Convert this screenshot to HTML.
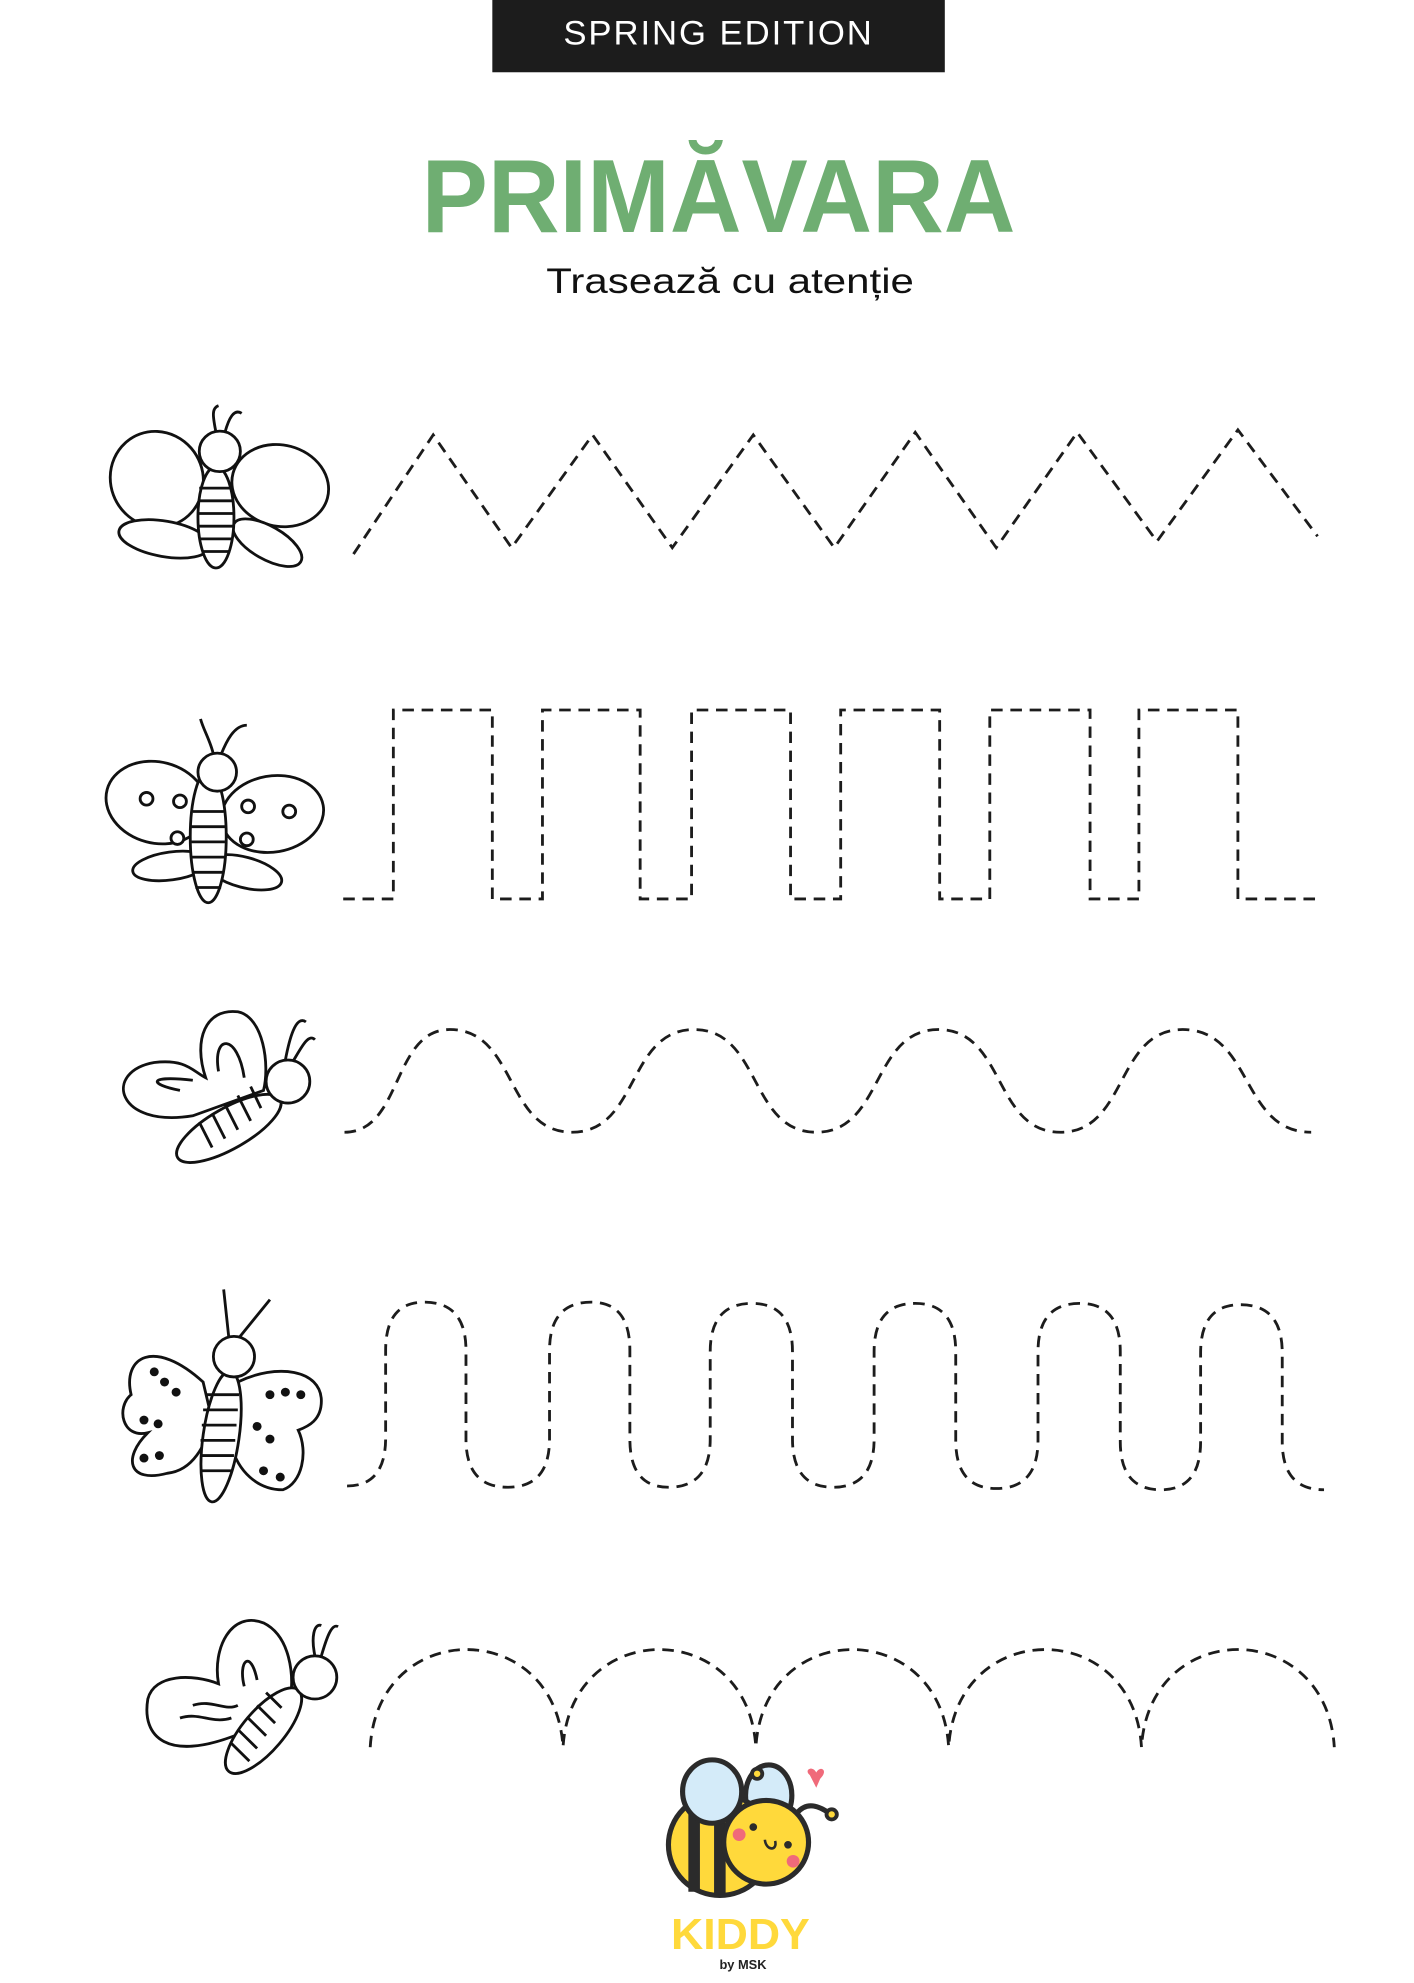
<!DOCTYPE html>
<html><head><meta charset="utf-8"><style>
html,body{margin:0;padding:0;background:#fff;}
svg{display:block;}
</style></head><body>
<svg width="1414" height="1983" viewBox="0 0 1100 1564" preserveAspectRatio="none" xmlns="http://www.w3.org/2000/svg">
<rect x="383" y="0" width="352" height="57" fill="#1c1c1c"/>
<text x="559" y="35" text-anchor="middle" font-family="Liberation Sans, sans-serif" font-size="27" fill="#fff" letter-spacing="1.5">SPRING EDITION</text>
<text x="559" y="183" text-anchor="middle" font-family="Liberation Sans, sans-serif" font-weight="bold" font-size="82" fill="#6fae72" textLength="462" lengthAdjust="spacingAndGlyphs">PRIMĂVARA</text>
<text x="568" y="231" text-anchor="middle" font-family="Liberation Sans, sans-serif" font-size="28" fill="#111" textLength="286" lengthAdjust="spacingAndGlyphs">Trasează cu atenție</text>

<g id="traces" fill="none" stroke="#1c1c1c" stroke-width="2.2" stroke-dasharray="9 6"></g>

<g fill="#fff" stroke="#111" stroke-width="2.2">
 <!-- row1 -->
 <g>
  <ellipse cx="122" cy="378" rx="36" ry="38" transform="rotate(-20 122 378)"/>
  <ellipse cx="218" cy="383" rx="38" ry="32" transform="rotate(15 218 383)"/>
  <ellipse cx="128" cy="425" rx="36" ry="14" transform="rotate(10 128 425)"/>
  <ellipse cx="208" cy="428" rx="30" ry="13" transform="rotate(30 208 428)"/>
  <ellipse cx="168" cy="408" rx="14" ry="40"/>
  <path d="M155 385h26M154 395h28M154 405h28M154 415h28M155 425h26M157 435h22"/>
  <circle cx="171" cy="356" r="16"/>
  <path d="M168 341 C166 330 164 322 170 320 M175 341 C178 330 182 322 188 326" fill="none"/>
 </g>
 <!-- row2 -->
 <g>
  <ellipse cx="122" cy="633" rx="40" ry="32" transform="rotate(15 122 633)"/>
  <ellipse cx="212" cy="642" rx="40" ry="30" transform="rotate(-10 212 642)"/>
  <ellipse cx="133" cy="683" rx="30" ry="11" transform="rotate(-8 133 683)"/>
  <ellipse cx="190" cy="688" rx="30" ry="12" transform="rotate(15 190 688)"/>
  <ellipse cx="162" cy="660" rx="14" ry="52"/>
  <path d="M150 640h24M149 652h26M149 664h26M149 676h26M150 688h24M152 700h20"/>
  <circle cx="169" cy="609" r="15"/>
  <path d="M166 595 C164 585 158 575 156 567 M172 595 C176 585 182 572 192 572" fill="none"/>
  <circle cx="114" cy="630" r="5"/><circle cx="140" cy="632" r="5"/><circle cx="138" cy="661" r="5"/><circle cx="193" cy="636" r="5"/><circle cx="225" cy="640" r="5"/><circle cx="192" cy="662" r="5"/>
 </g>
 <!-- row3 -->
 <g>
  <path d="M150 880 C90 890 80 845 120 838 C145 835 150 845 160 850 C150 820 160 795 185 798 C205 802 210 840 205 860 Z"/>
  <path d="M140 860 C115 855 115 848 150 852 M170 845 C165 815 185 815 190 850" fill="none"/>
  <ellipse cx="178" cy="890" rx="46" ry="16" transform="rotate(-30 178 890)"/>
  <path d="M155 885l10 20M165 878l10 20M175 871l10 20M185 864l10 20M195 857l8 17" fill="none"/>
  <circle cx="224" cy="853" r="17"/>
  <path d="M222 836 C225 820 230 800 238 806 M228 837 C235 825 240 815 245 820" fill="none"/>
 </g>
 <!-- row4 -->
 <g>
  <path d="M158 1090 C120 1055 95 1070 102 1100 C90 1110 95 1135 115 1130 C95 1150 100 1170 130 1162 C150 1160 160 1140 165 1120 Z"/>
  <path d="M185 1090 C215 1075 250 1080 250 1105 C250 1120 240 1125 232 1128 C240 1145 235 1170 220 1175 C200 1175 185 1160 180 1140 Z"/>
  <ellipse cx="172" cy="1133" rx="14" ry="52" transform="rotate(8 172 1133)"/>
  <path d="M160 1100h26M158 1112h27M157 1124h27M156 1136h27M156 1148h26M157 1160h23"/>
  <circle cx="182" cy="1070" r="16"/>
  <path d="M178 1055 L174 1017 M186 1055 L210 1025" fill="none"/>
  <g fill="#111" stroke="none"><circle cx="120" cy="1082" r="3.5"/><circle cx="128" cy="1090" r="3.5"/><circle cx="137" cy="1098" r="3.5"/><circle cx="112" cy="1120" r="3.5"/><circle cx="123" cy="1123" r="3.5"/><circle cx="112" cy="1150" r="3.5"/><circle cx="124" cy="1148" r="3.5"/><circle cx="210" cy="1100" r="3.5"/><circle cx="222" cy="1098" r="3.5"/><circle cx="234" cy="1100" r="3.5"/><circle cx="200" cy="1125" r="3.5"/><circle cx="210" cy="1135" r="3.5"/><circle cx="205" cy="1160" r="3.5"/><circle cx="218" cy="1165" r="3.5"/></g>
 </g>
 <!-- row5 -->
 <g>
  <path d="M185 1368 C130 1390 110 1370 115 1340 C120 1320 150 1320 170 1328 C165 1300 180 1270 205 1280 C225 1290 230 1320 225 1345 Z"/>
  <path d="M140 1355 C155 1350 165 1360 180 1355 M150 1345 C165 1340 175 1350 185 1345 M190 1330 C185 1310 195 1300 200 1325" fill="none"/>
  <ellipse cx="205" cy="1365" rx="42" ry="16" transform="rotate(-50 205 1365)"/>
  <path d="M180 1375l14 14M186 1365l14 14M193 1355l14 14M200 1345l14 14M207 1335l12 12" fill="none"/>
  <circle cx="245" cy="1323" r="17"/>
  <path d="M245 1306 C242 1292 244 1280 250 1282 M250 1306 C254 1292 258 1280 263 1283" fill="none"/>
 </g>
</g>

<g stroke="#2b2b2b" stroke-width="4">
 <ellipse cx="598" cy="1416" rx="18" ry="24" fill="#d4ebf9"/>
 <ellipse cx="560" cy="1455" rx="40" ry="40" fill="#ffd93b"/>
 <path d="M540 1420 L540 1492 M560 1415 L560 1494" stroke-width="9"/>
 <ellipse cx="554" cy="1413" rx="23" ry="25" fill="#d4ebf9"/>
 <circle cx="596" cy="1453" r="33" fill="#ffd93b"/>
 <path d="M620 1430 C628 1420 638 1425 645 1430" fill="none"/>
 <circle cx="647" cy="1431" r="4" fill="#ffd93b" stroke-width="3"/>
 <circle cx="589" cy="1399" r="4" fill="#ffd93b" stroke-width="3"/>
 <circle cx="575" cy="1447" r="5" fill="#f06a7a" stroke="none"/>
 <circle cx="617" cy="1468" r="5" fill="#f06a7a" stroke="none"/>
 <circle cx="586" cy="1441" r="3" fill="#2b2b2b" stroke="none"/>
 <circle cx="613" cy="1455" r="3" fill="#2b2b2b" stroke="none"/>
 <path d="M595 1451 C596 1460 605 1460 603 1452" fill="none" stroke-width="2"/>
 <path d="M630 1400 C625 1396 632 1392 635 1398 C638 1392 645 1396 638 1403 L635 1410 Z" fill="#f06a7a" stroke="none"/>
</g>
<text x="576" y="1537" text-anchor="middle" font-family="Liberation Sans, sans-serif" font-weight="bold" font-size="34" fill="#ffd93b" textLength="108" lengthAdjust="spacingAndGlyphs">KIDDY</text>
<text x="578" y="1553" text-anchor="middle" font-family="Liberation Sans, sans-serif" font-weight="bold" font-size="10" fill="#222">by MSK</text>
</svg>
<script>
// Row 1 zigzag vertices
const zigX = [275,337,398,461,523,586,649,712,775,838,900,963,1025];
const zigY = [437,343,432,343,432,343,432,341,432,341,427,339,423];
// Row 2 square pulses (start,end) at high level
const sqStart = [306,422,538,654,770,886];
const sqEnd = [383,498,615,731,848,963];
const sqLow = 709, sqHigh = 560, sqFrom = 267, sqTo = 1027;
// Row 3 smooth wave extremes
const waveX = [268,350,445,540,635,730,825,920,1020];
const waveY = [893,812,893,812,893,812,893,812,893];
// Row 4 tall arches extremes
const archX = [270,330,395,460,520,585,648,712,775,840,903,965,1030];
const archY = [1172,1027,1173,1027,1173,1028,1173,1028,1174,1028,1175,1029,1175];
// Row 5 arch bases
const humpX = [288,438,588,738,888,1038];
const humpTop = [1301,1301,1301,1301,1301];
const humpBase = 1378;

const g = document.getElementById('traces');
function addPath(d, name){
  const p = document.createElementNS('http://www.w3.org/2000/svg','path');
  p.setAttribute('d', d);
  
  
  g.appendChild(p);
}
// zigzag
let d = 'M' + zigX[0] + ' ' + zigY[0];
for (let i = 1; i < zigX.length; i++) d += ' L' + zigX[i] + ' ' + zigY[i];
addPath(d, 'zigzag-trace');
// square wave
d = 'M' + sqFrom + ' ' + sqLow;
for (let i = 0; i < sqStart.length; i++) {
  d += ' L' + sqStart[i] + ' ' + sqLow + ' L' + sqStart[i] + ' ' + sqHigh + ' L' + sqEnd[i] + ' ' + sqHigh + ' L' + sqEnd[i] + ' ' + sqLow;
}
d += ' L' + sqTo + ' ' + sqLow;
addPath(d, 'square-wave-trace');
// smooth wave
d = 'M' + waveX[0] + ' ' + waveY[0];
for (let i = 1; i < waveX.length; i++) {
  const dx = waveX[i] - waveX[i-1];
  d += ' C' + (waveX[i-1] + dx*0.55) + ' ' + waveY[i-1] + ' ' + (waveX[i] - dx*0.55) + ' ' + waveY[i] + ' ' + waveX[i] + ' ' + waveY[i];
}
addPath(d, 'wave-trace');
// tall arches
d = 'M' + archX[0] + ' ' + archY[0];
for (let i = 1; i < archX.length; i++) {
  const x0 = archX[i-1], y0 = archY[i-1], x1 = archX[i], y1 = archY[i];
  const mx = (x0 + x1) / 2;
  const s = y1 < y0 ? -1 : 1;
  d += ' Q' + mx + ' ' + y0 + ' ' + mx + ' ' + (y0 + s*38);
  d += ' L' + mx + ' ' + (y1 - s*38);
  d += ' Q' + mx + ' ' + y1 + ' ' + x1 + ' ' + y1;
}
addPath(d, 'tall-arch-trace');
// humps
d = 'M' + humpX[0] + ' ' + humpBase;
for (let i = 1; i < humpX.length; i++) {
  const c = (humpTop[i-1] - 0.25*humpBase) / 0.75;
  d += ' C' + (humpX[i-1] + 6) + ' ' + c + ' ' + (humpX[i] - 6) + ' ' + c + ' ' + humpX[i] + ' ' + humpBase;
}
addPath(d, 'hump-trace');
</script>
</body></html>
